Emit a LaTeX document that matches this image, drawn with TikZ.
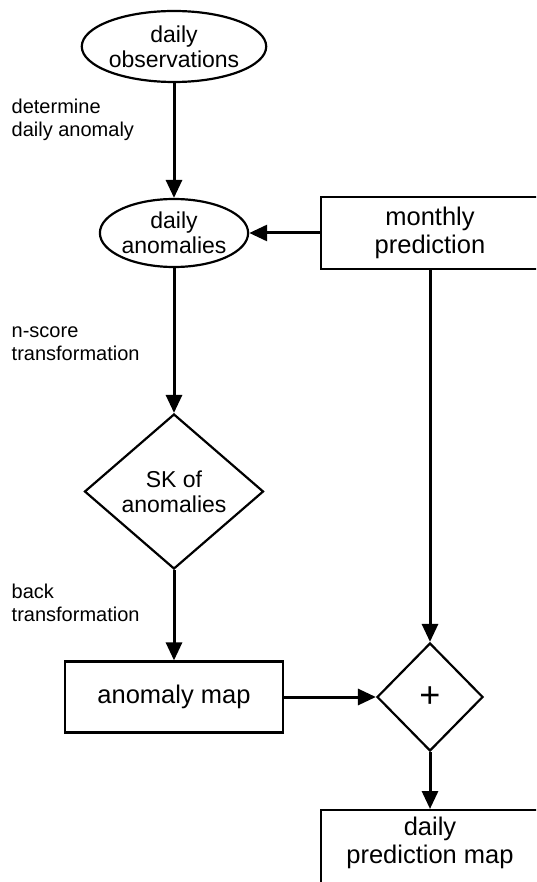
\documentclass[tikz,border=0pt]{standalone}
\usepackage{fontspec}
\setmainfont{Liberation Sans}
\usetikzlibrary{shapes.geometric,arrows.meta}
\tikzset{
 nodefont/.style={font=\fontsize{23}{25}\selectfont},
 boxfont/.style={font=\fontsize{25.5}{28}\selectfont},
 lblfont/.style={font=\fontsize{20}{23}\selectfont},
 ell/.style={ellipse, draw, line width=2.2pt, inner sep=0pt, align=center, nodefont},
 dia/.style={diamond, draw, line width=2.2pt, inner sep=0pt, align=center, nodefont},
 box/.style={rectangle, draw, line width=2.2pt, inner sep=0pt, align=center, boxfont},
 boxtext/.style={inner sep=0pt, align=center, boxfont},
 lbl/.style={anchor=north west, inner sep=0pt, align=left, lblfont},
 arr/.style={-{Triangle[length=18pt,width=16pt]}, line width=3pt},
}
\newcommand{\lblstrut}{\rule{0pt}{15pt}}
\begin{document}
\begin{tikzpicture}[x=1pt,y=-1pt]
\useasboundingbox (0,0) rectangle (536,882);
\clip (0,0) rectangle (536,882);
\node[ell, minimum width=178, minimum height=71] (obs) at (174,46.5) {daily\\observations};
\node[ell, minimum width=145, minimum height=68] (anom) at (174,233) {daily\\anomalies};
\node[box, minimum width=218, minimum height=72] (mp) at (430,233) {monthly\\prediction};
\node[dia, minimum width=179, minimum height=155] (sk) at (174,491.5) {SK of\\anomalies};
\node[box, minimum width=218, minimum height=71] (am) at (174,697) {anomaly map};
\node[dia, minimum width=106, minimum height=108, font=\fontsize{36}{36}\selectfont] (plus) at (430,697) {+};
\node[box, anchor=north, minimum width=218, minimum height=100] (dpm) at (430,809) {};
\node[boxtext] (dpmtext) at ([yshift=-33.5pt]dpm.north) {daily\\prediction map};
\node[lbl] (l1) at (11.5,98) {\lblstrut determine\\daily anomaly};
\node[lbl] (l2) at (11.5,322) {\lblstrut n-score\\transformation};
\node[lbl] (l3) at (11.5,583) {\lblstrut back\\transformation};
\draw[arr] (obs.south) -- (anom.north);
\draw[arr] (mp.west) -- (anom.east);
\draw[arr] (anom.south) -- (sk.north);
\draw[arr] (sk.south) -- (am.north);
\draw[arr] (am.east) -- (plus.west);
\draw[arr] (mp.south) -- (plus.north);
\draw[arr] (plus.south) -- (dpm.north);
\end{tikzpicture}
\end{document}
